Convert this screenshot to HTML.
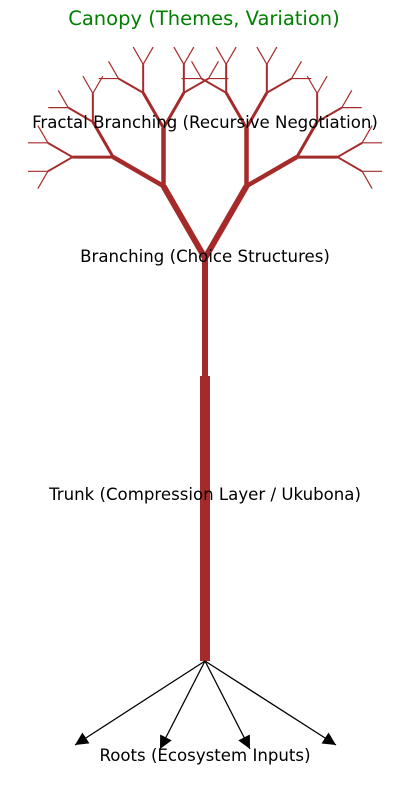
<!DOCTYPE html>
<html><head><style>body{margin:0;background:#fff}svg{display:block}text{font-family:"DejaVu Sans","Liberation Sans",sans-serif}</style></head>
<body>
<svg id="s" width="409" height="796" viewBox="0 0 409 796" xmlns="http://www.w3.org/2000/svg">
<defs><marker id="a" viewBox="0 0 10 10" refX="10" refY="5" markerWidth="15" markerHeight="13" markerUnits="userSpaceOnUse" orient="auto"><path d="M0,0 L10,5 L0,10 z" fill="#000"/></marker></defs>
<g id="tree" stroke="#a52a2a" stroke-linecap="butt" fill="none">
<line x1="205" y1="661" x2="205" y2="376" stroke-width="10"/>
<line x1="205" y1="377" x2="205" y2="258" stroke-width="6"/>
</g>
<g stroke="#000" stroke-width="1.3">
<line x1="205" y1="661" x2="75" y2="745" marker-end="url(#a)"/>
<line x1="205" y1="661" x2="160" y2="749" marker-end="url(#a)"/>
<line x1="205" y1="661" x2="250" y2="749" marker-end="url(#a)"/>
<line x1="205" y1="661" x2="336" y2="745" marker-end="url(#a)"/>
</g>
<g font-size="16.6" text-anchor="middle" fill="#000">
<text x="204" y="25" fill="#008000" font-size="19.5">Canopy (Themes, Variation)</text>
<text x="205" y="128">Fractal Branching (Recursive Negotiation)</text>
<text x="205" y="262">Branching (Choice Structures)</text>
<text x="205" y="500">Trunk (Compression Layer / Ukubona)</text>
<text x="205" y="761">Roots (Ecosystem Inputs)</text>
</g>
</svg>
<script>
(function(){
var g=document.getElementById('tree'),ns='http://www.w3.org/2000/svg';
var widths=[6,4.5,3,2,1.2];
function br(x,y,ang,len,d){
 if(d>4)return;
 [-30,30].forEach(function(s){
  var a=(ang+s)*Math.PI/180;
  var x2=x+len*Math.sin(a),y2=y-len*Math.cos(a);
  var l=document.createElementNS(ns,'line');
  l.setAttribute('x1',x);l.setAttribute('y1',y);l.setAttribute('x2',x2);l.setAttribute('y2',y2);
  l.setAttribute('stroke-width',widths[d]);g.appendChild(l);
  br(x2,y2,ang+s,len*0.7,d+1);
 });
}
br(205,258,0,83,0);
})();
</script>
</body></html>
